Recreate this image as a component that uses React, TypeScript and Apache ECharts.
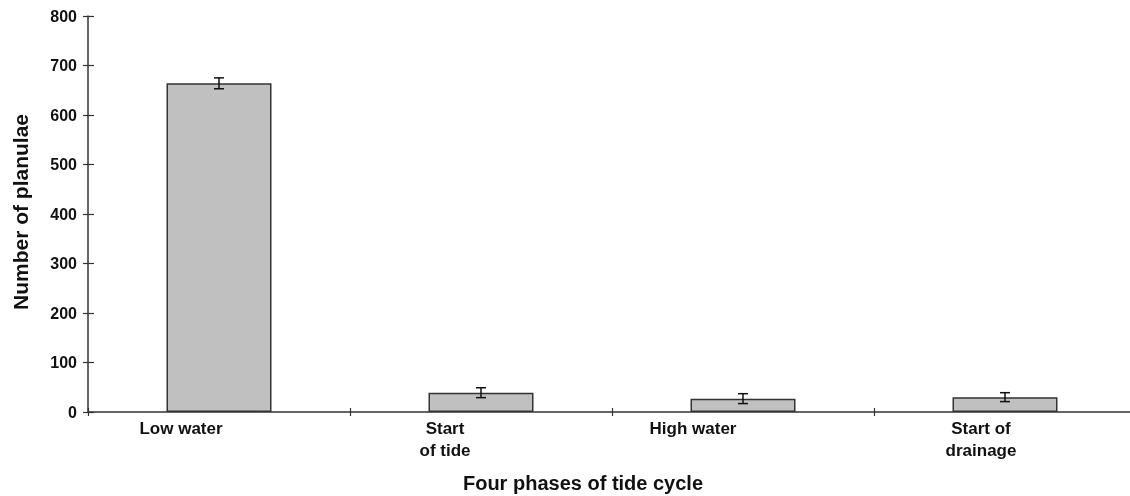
import React, { useEffect, useRef } from "react";
import * as echarts from "echarts";

const categories = ["Low water", "Start\nof tide", "High water", "Start of\ndrainage"];
const labelShift = [-38, -36, -50, -24];
const planulae = [664, 39, 27, 30];
const errors = [11, 10, 10, 9];
const yTicks = { min: 0, max: 800, interval: 100 };

const FONT = "'Liberation Sans', Arial, sans-serif";

export default function App() {
  const ref = useRef<HTMLDivElement>(null);
  useEffect(() => {
    const chart = echarts.init(ref.current!, null, { renderer: "svg" });
    const catData = categories.map((c, i) => ({
      value: c,
      textStyle: { padding: [0, -2 * labelShift[i], 0, 0] },
    }));
    const errData = planulae.map((v, i) => [i, v - errors[i], v + errors[i]]);
    chart.setOption({
      animation: false,
      grid: { left: 88, top: 16, bottom: 84, width: 1048, outerBoundsMode: "none", containLabel: false },
      xAxis: [
        {
          type: "category",
          data: catData,
          axisLine: { lineStyle: { color: "#333", width: 1.5 } },
          axisTick: { show: true, length: 4, inside: false, lineStyle: { color: "#333", width: 1.2 } },
          axisLabel: {
            color: "#111",
            fontFamily: FONT,
            fontWeight: "bold",
            fontSize: 17,
            lineHeight: 22,
            margin: 5,
          },
        },
        {
          type: "category",
          data: categories,
          position: "bottom",
          axisLine: { show: false },
          axisTick: { show: true, length: 4, inside: true, lineStyle: { color: "#333", width: 1.2 } },
          axisLabel: { show: false },
        },
      ],
      yAxis: [
        {
          type: "value",
          min: yTicks.min,
          max: yTicks.max,
          interval: yTicks.interval,
          splitLine: { show: false },
          axisLine: { show: true, lineStyle: { color: "#333", width: 1.5 } },
          axisTick: { show: true, length: 5, lineStyle: { color: "#333", width: 1.2 } },
          axisLabel: {
            color: "#111",
            fontFamily: FONT,
            fontWeight: "bold",
            fontSize: 16,
            margin: 11,
          },
        },
        {
          type: "value",
          min: yTicks.min,
          max: yTicks.max,
          interval: yTicks.interval,
          position: "left",
          splitLine: { show: false },
          axisLine: { show: false },
          axisTick: { show: true, inside: true, length: 6, lineStyle: { color: "#333", width: 1.2 } },
          axisLabel: { show: false },
        },
      ],
      graphic: [
        {
          type: "text",
          x: 20,
          y: 212,
          rotation: Math.PI / 2,
          style: {
            text: "Number of planulae",
            font: `bold 21px ${FONT}`,
            fill: "#111",
            textAlign: "center",
            textVerticalAlign: "middle",
          },
        },
        {
          type: "text",
          x: 583,
          y: 483,
          style: {
            text: "Four phases of tide cycle",
            font: `bold 20px ${FONT}`,
            fill: "#111",
            textAlign: "center",
            textVerticalAlign: "middle",
          },
        },
      ],
      series: [
        {
          type: "bar",
          data: planulae,
          barWidth: 105,
          xAxisIndex: 0,
          yAxisIndex: 0,
          itemStyle: { color: "#c0c0c0", borderColor: "#333", borderWidth: 1.5 },
        },
        {
          type: "custom",
          xAxisIndex: 0,
          yAxisIndex: 0,
          data: errData,
          z: 5,
          renderItem: (params: any, api: any) => {
            const x = api.value(0);
            const lo = api.coord([x, api.value(1)]);
            const hi = api.coord([x, api.value(2)]);
            const hw = 5;
            const style = { stroke: "#111", lineWidth: 1.5 };
            return {
              type: "group",
              children: [
                { type: "line", shape: { x1: lo[0], y1: lo[1], x2: hi[0], y2: hi[1] }, style },
                { type: "line", shape: { x1: lo[0] - hw, y1: lo[1], x2: lo[0] + hw, y2: lo[1] }, style },
                { type: "line", shape: { x1: hi[0] - hw, y1: hi[1], x2: hi[0] + hw, y2: hi[1] }, style },
              ],
            };
          },
        },
      ],
    });
    return () => chart.dispose();
  }, []);
  return <div ref={ref} style={{ position: "fixed", left: 0, top: 0, width: 1130, height: 496 }} />;
}
